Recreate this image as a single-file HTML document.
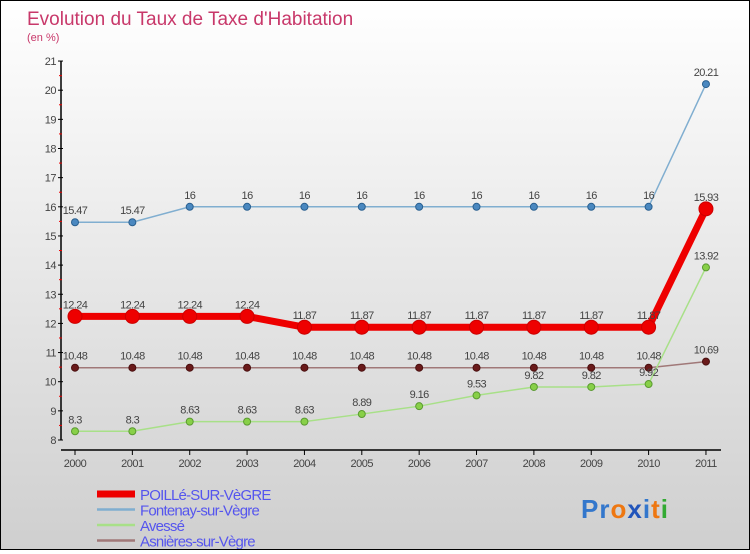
<!DOCTYPE html>
<html><head><meta charset="utf-8"><style>
body{margin:0;width:750px;height:550px;overflow:hidden;font-family:"Liberation Sans",sans-serif}
#wrap{position:absolute;left:0;top:0;width:748px;height:548px;border:1px solid #000;background:linear-gradient(#ffffff,#cfcfcf)}
</style></head><body>
<div id="wrap">
<svg id="chart" width="748" height="548"></svg>
</div>
<script>
const years=["2000","2001","2002","2003","2004","2005","2006","2007","2008","2009","2010","2011"];
const poille=[12.24,12.24,12.24,12.24,11.87,11.87,11.87,11.87,11.87,11.87,11.87,15.93];
const fontenay=[15.47,15.47,16,16,16,16,16,16,16,16,16,20.21];
const avesse=[8.3,8.3,8.63,8.63,8.63,8.89,9.16,9.53,9.82,9.82,9.92,13.92];
const asnieres=[10.48,10.48,10.48,10.48,10.48,10.48,10.48,10.48,10.48,10.48,10.48,10.69];
const yTicks=[8,9,10,11,12,13,14,15,16,17,18,19,20,21];
const seriesNames=["POILLé-SUR-VèGRE","Fontenay-sur-Vègre","Avessé","Asnières-sur-Vègre"];

const NS="http://www.w3.org/2000/svg";
const svg=document.getElementById('chart');
const x=i=>74+i*57.36;
const y=v=>439-(v-8)*29.15;
function mk(t,a,p){const e=document.createElementNS(NS,t);for(const k in a)e.setAttribute(k,a[k]);(p||svg).appendChild(e);return e;}

let t=mk('text',{x:26,y:24,'font-size':19,fill:'#c8386a'});t.textContent='Evolution du Taux de Taxe d\'Habitation';


t=mk('text',{x:26,y:40,'font-size':11,fill:'#c8386a'});t.textContent='(en %)';



let ax=mk('line',{x1:60,y1:y(21),x2:60,y2:y(8),stroke:'#000','stroke-width':1.5});


yTicks.forEach(v=>{
  mk('line',{x1:57,y1:y(v),x2:62,y2:y(v),stroke:'#000'});
  if(v<21) mk('line',{x1:58,y1:y(v+0.5),x2:61,y2:y(v+0.5),stroke:'#e00'});
  const l=mk('text',{x:55,y:y(v)+4,'font-size':11,fill:'#444','text-anchor':'end','letter-spacing':'-0.5'});l.textContent=v;
  
  
});
ax=mk('line',{x1:60,y1:449,x2:720,y2:449,stroke:'#000','stroke-width':1.5});


years.forEach((yr,i)=>{
  mk('line',{x1:x(i),y1:449,x2:x(i),y2:454,stroke:'#000'});
  const l=mk('text',{x:x(i),y:466,'font-size':11,fill:'#444','text-anchor':'middle','letter-spacing':'-0.5'});l.textContent=yr;
  
  
});

function series(data,name,line,dot,w,r,stroke){
  const g=mk('g',{});
  
  
  mk('polyline',{points:data.map((v,i)=>x(i)+','+y(v)).join(' '),fill:'none',stroke:line,'stroke-width':w},g);
  data.forEach((v,i)=>{
    const c=mk('circle',{cx:x(i),cy:y(v),r:r,fill:dot,stroke:stroke,'stroke-width':1},g);
    
    
    const l=mk('text',{x:x(i),y:y(v)-8,'font-size':11,fill:'#444','text-anchor':'middle','letter-spacing':'-0.6'},g);
    l.textContent=v;
    
    
  });
}
series(asnieres,'asnieres-series','#a07878','#6a1a1a',1.5,3.5,'#4a1010');
series(avesse,'avesse-series','#a8e088','#88d048',1.5,3.5,'#5a9a30');
series(fontenay,'fontenay-series','#80aed0','#4a88c0',1.5,3.5,'#2a6090');
series(poille,'poille-series','#ee0000','#ee0000',7,7,'#cc0000');

const legCols=['#ee0000','#80aed0','#a8e088','#a07878'];
seriesNames.forEach((n,i)=>{
  const yy=493+i*15.5;
  const g=mk('g',{});
  
  
  mk('line',{x1:96,y1:yy,x2:134,y2:yy,stroke:legCols[i],'stroke-width':i==0?7:2.5},g);
  const l=mk('text',{x:139,y:yy+6,'font-size':15,fill:'#5555ee','letter-spacing':'-0.8'},g);l.textContent=n;
});
const logo=mk('text',{x:580,y:517,'font-size':26,'font-weight':'bold','letter-spacing':'1'});


[['Pr','#3377cc'],['o','#ee7711'],['x','#2255bb'],['i','#3377cc'],['t','#ee7711'],['i','#33aa33']].forEach(([s,c])=>{const ts=mk('tspan',{fill:c},logo);ts.textContent=s;});
</script>
</body></html>
